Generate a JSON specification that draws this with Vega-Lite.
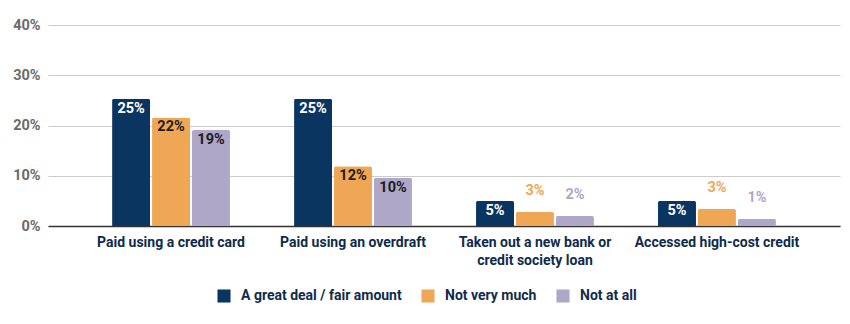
{
  "$schema": "https://vega.github.io/schema/vega-lite/v6.json",
  "autosize": {"type": "none"},
  "width": 792,
  "height": 201,
  "padding": {"left": 48, "top": 25, "right": 10, "bottom": 98},
  "background": "white",
  "config": {
    "font": "Roboto",
    "view": {"stroke": null}
  },
  "data": {
    "values": [
      {"category": "Paid using a credit card", "series": "A great deal / fair amount", "value": 0.253},
      {"category": "Paid using a credit card", "series": "Not very much", "value": 0.216},
      {"category": "Paid using a credit card", "series": "Not at all", "value": 0.191},
      {"category": "Paid using an overdraft", "series": "A great deal / fair amount", "value": 0.253},
      {"category": "Paid using an overdraft", "series": "Not very much", "value": 0.119},
      {"category": "Paid using an overdraft", "series": "Not at all", "value": 0.096},
      {"category": "Taken out a new bank or credit society loan", "series": "A great deal / fair amount", "value": 0.05},
      {"category": "Taken out a new bank or credit society loan", "series": "Not very much", "value": 0.0285},
      {"category": "Taken out a new bank or credit society loan", "series": "Not at all", "value": 0.02},
      {"category": "Accessed high-cost credit", "series": "A great deal / fair amount", "value": 0.05},
      {"category": "Accessed high-cost credit", "series": "Not very much", "value": 0.034},
      {"category": "Accessed high-cost credit", "series": "Not at all", "value": 0.0145}
    ]
  },
  "encoding": {
    "x": {
      "field": "category",
      "type": "nominal",
      "sort": null,
      "scale": {"paddingInner": 0.352, "paddingOuter": 0.352},
      "axis": {
        "title": null,
        "labelAngle": 0,
        "ticks": false,
        "domain": true,
        "domainColor": "#333333",
        "domainWidth": 1.5,
        "labelFont": "Roboto",
        "labelFontSize": 14,
        "labelFontWeight": "bold",
        "labelColor": "#0f2b4c",
        "labelPadding": 9,
        "labelLineHeight": 18,
        "labelBaseline": "top",
        "labelLimit": 300,
        "labelExpr": "datum.label == 'Taken out a new bank or credit society loan' ? ['Taken out a new bank or', 'credit society loan'] : datum.label"
      }
    },
    "xOffset": {
      "field": "series",
      "type": "nominal",
      "sort": ["A great deal / fair amount", "Not very much", "Not at all"],
      "scale": {"paddingInner": 0.05}
    },
    "y": {
      "field": "value",
      "type": "quantitative",
      "scale": {"domain": [0, 0.4], "nice": false},
      "axis": {
        "title": null,
        "format": ".0%",
        "values": [0, 0.1, 0.2, 0.3, 0.4],
        "labelOverlap": false,
        "ticks": false,
        "domain": false,
        "gridColor": "#cccccc",
        "gridWidth": 1,
        "labelFont": "Roboto",
        "labelFontSize": 14.5,
        "labelFontWeight": "bold",
        "labelColor": "#6b6b6b",
        "labelPadding": 8
      }
    }
  },
  "layer": [
    {
      "mark": {"type": "bar", "cornerRadiusTopLeft": 2, "cornerRadiusTopRight": 2},
      "encoding": {
        "color": {
          "field": "series",
          "type": "nominal",
          "sort": ["A great deal / fair amount", "Not very much", "Not at all"],
          "scale": {
            "domain": ["A great deal / fair amount", "Not very much", "Not at all"],
            "range": ["#0b3561", "#f0a755", "#aea7c7"]
          },
          "legend": {
            "title": null,
            "orient": "none",
            "direction": "horizontal",
            "legendX": 169,
            "legendY": 264,
            "symbolType": "square",
            "symbolSize": 170,
            "symbolStrokeWidth": 0,
            "labelFont": "Roboto",
            "labelFontSize": 14,
            "labelFontWeight": "bold",
            "labelColor": "#0f2b4c",
            "labelOffset": 10,
            "columnPadding": 19,
            "labelLimit": 300
          }
        }
      }
    },
    {
      "transform": [{"filter": "datum.value >= 0.04"}],
      "mark": {"type": "text", "baseline": "top", "dy": 3, "fontSize": 14.5, "fontWeight": "bold", "font": "Roboto"},
      "encoding": {
        "text": {"field": "value", "type": "quantitative", "format": ".0%"},
        "color": {
          "condition": {"test": "datum.series == 'A great deal / fair amount'", "value": "#ffffff"},
          "value": "#1c1c1c"
        }
      }
    },
    {
      "transform": [{"filter": "datum.value < 0.04"}],
      "mark": {"type": "text", "baseline": "bottom", "dy": -14, "fontSize": 14.5, "fontWeight": "bold", "font": "Roboto"},
      "encoding": {
        "text": {"field": "value", "type": "quantitative", "format": ".0%"},
        "color": {
          "condition": {"test": "datum.series == 'Not very much'", "value": "#f0a755"},
          "value": "#aea7c7"
        }
      }
    }
  ]
}
